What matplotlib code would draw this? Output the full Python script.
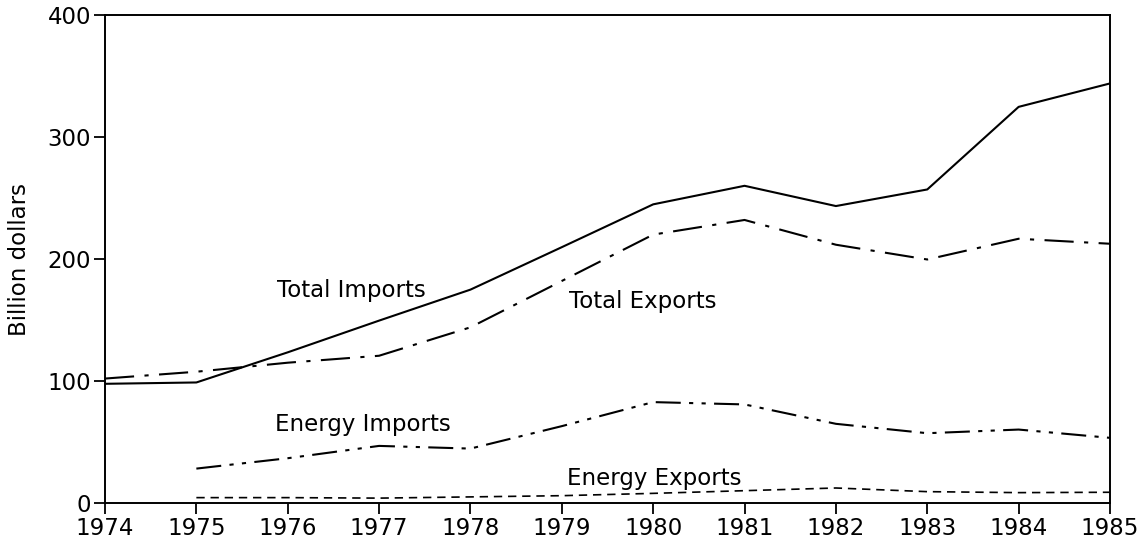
import matplotlib
matplotlib.use("Agg")
import matplotlib.pyplot as plt
import numpy as np

years = [1974, 1975, 1976, 1977, 1978, 1979, 1980, 1981, 1982, 1983, 1984, 1985]
total_imports = [97.7, 98.8, 123.5, 149.5, 174.9, 209.7, 244.8, 260.0, 243.4, 257.0, 324.7, 343.9]
total_exports = [102.0, 107.6, 115.0, 120.7, 144.0, 182.0, 220.0, 232.0, 211.7, 199.6, 216.6, 212.5]
energy_years = [1975, 1976, 1977, 1978, 1979, 1980, 1981, 1982, 1983, 1984, 1985]
energy_imports = [28.2, 36.7, 46.8, 44.6, 63.0, 82.7, 80.8, 64.9, 57.2, 60.2, 53.4]
energy_exports = [4.4, 4.4, 4.0, 5.0, 6.0, 7.9, 10.1, 12.3, 9.3, 8.5, 8.8]
yticks = [0, 100, 200, 300, 400]

plt.rcParams['font.family'] = ['DejaVu Sans']

fig = plt.figure(figsize=(11.42, 5.43), dpi=100)
ax = fig.add_axes([105/1142, 1 - 503/543, (1110 - 105)/1142, (503 - 15)/543])

lw = 1.5
ax.plot(years, total_imports, color='black', lw=lw, linestyle='-')
ax.plot(years, total_exports, color='black', lw=lw, linestyle=(0, (14, 5, 2, 5)))
ax.plot(energy_years, energy_imports, color='black', lw=lw, linestyle=(0, (12, 4, 2, 4, 2, 4)))
ax.plot(energy_years, energy_exports, color='black', lw=1.2, linestyle=(0, (5, 3.5)))

fs = 16.5
ax.text(1975.88, 174, 'Total Imports', fontsize=fs, ha='left', va='center')
ax.text(1979.08, 165, 'Total Exports', fontsize=fs, ha='left', va='center')
ax.text(1975.86, 64, 'Energy Imports', fontsize=fs, ha='left', va='center')
ax.text(1979.06, 20, 'Energy Exports', fontsize=fs, ha='left', va='center')

ax.set_xlim(1974, 1985)
ax.set_ylim(0, 400)
ax.set_xticks(years)
ax.set_xticklabels([str(y) for y in years])
ax.set_yticks(yticks)
ax.tick_params(axis='both', direction='out', length=8, width=1.3, labelsize=fs, pad=2)
for s in ax.spines.values():
    s.set_linewidth(1.4)
ax.set_ylabel('Billion dollars', fontsize=fs, labelpad=12)

fig.savefig('out.png', dpi=100)
